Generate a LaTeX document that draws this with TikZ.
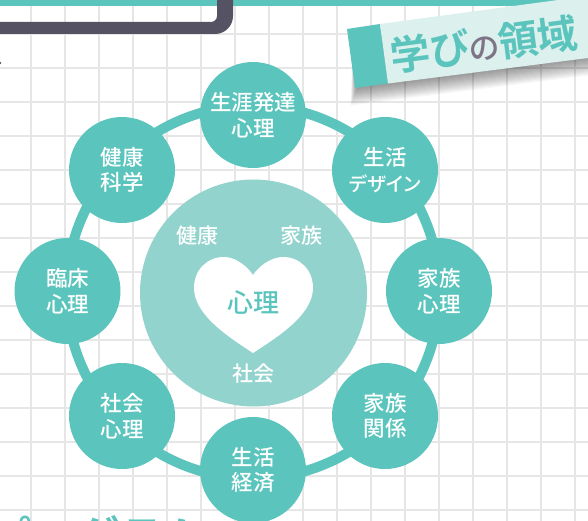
\documentclass[tikz,border=0pt]{standalone}
\usepackage{fontspec}
\setmainfont{Noto Sans CJK JP Medium}[BoldFont={Noto Sans CJK JP Bold},RawFeature=+palt]
\newfontfamily\plainjp{Noto Sans CJK JP Bold}
\definecolor{teal1}{HTML}{5BC5BD}
\definecolor{teal2}{HTML}{92D3CD}
\definecolor{pale}{HTML}{DCF0EE}
\definecolor{darkf}{HTML}{555263}
\definecolor{gridc}{HTML}{E6E6E6}
\definecolor{nogray}{HTML}{7D7585}
\tikzset{
  x=1pt,y=-1pt,
  topic/.style={circle,fill=teal1,minimum size=106pt,inner sep=0pt,text=white,align=center,font=\fontsize{21.5}{25.5}\selectfont},
  word/.style={text=white,inner sep=0pt,font=\fontsize{21}{25}\selectfont},
  gridl/.style={draw=gridc,line width=1.7pt},
  ring/.style={draw=teal1,line width=10pt}
}
\begin{document}
\begin{tikzpicture}
\useasboundingbox (0,0) rectangle (588,521);
\clip (0,0) rectangle (588,521);
\fill[white] (0,0) rectangle (588,521);
\foreach \i in {0,...,16} {\draw[gridl] ({31+34*\i},0) -- ({31+34*\i},521);}
\foreach \i in {0,...,14} {\draw[gridl] (0,{33.7+34*\i}) -- (588,{33.7+34*\i});}
% top bar and frame
\fill[teal1] (0,0) rectangle (588,6);
\fill[darkf] (0,22) -- (211,22) arc[start angle=90,end angle=0,radius=6] -- (217,0) -- (233,0) -- (233,16) arc[start angle=0,end angle=90,radius=18] -- (0,34) -- cycle;
\fill[darkf] (0,63) circle[radius=1.3];
% label shadow
\foreach \d in {1,...,16}
  {\fill[black,opacity=.028] (353,40) -- ({357-\d*.4},{88+\d*1.1}) -- (588,{58+\d*1.1}) -- (588,0) -- cycle;}
\fill[teal1] (347,29) -- (380,24) -- (388,83.5) -- (355,88) -- cycle;
\fill[pale] (380,24) -- (558,0) -- (588,-4) -- (588,58) -- (388,83.5) -- cycle;
\node[rotate=7.5,inner sep=0pt,anchor=center] (title) at (484,44.5) {\fontsize{40}{40}\selectfont\bfseries\textcolor{teal1}{学び}\mdseries\fontsize{31}{31}\selectfont\textcolor{nogray}{の}\bfseries\fontsize{40}{40}\selectfont\textcolor{teal1}{領域}};
% bottom heading (cropped by the page edge)
\node[anchor=base west,inner sep=0pt,text=teal1] (heading) at (-13,553) {\fontsize{44}{44}\selectfont\plainjp プログラム};
% ring
\draw[ring] (253,292) circle[radius=186.5];
% centre
\fill[teal2] (253.5,293) circle[radius=113.5];
\fill[white] (253,275) .. controls (244,262) and (232,257) .. (224,257) .. controls (207,257) and (194,270) .. (194,288) .. controls (194,316) and (232,339) .. (253,353) .. controls (274,339) and (313,316) .. (313,288) .. controls (313,270) and (300,257) .. (283,257) .. controls (275,257) and (262,262) .. (253,275) -- cycle;
\node[text=teal1,inner sep=0pt,font=\fontsize{26}{26}\selectfont] (core) at (253,303) {心理};
\node[word] (wa) at (197.5,236) {健康};
\node[word] (wb) at (301.5,236) {家族};
\node[word] (wc) at (253,374) {社会};
% topics
\node[topic] (n1) at (253,115) {生涯発達\\心理};
\node[topic] (n2) at (385,170) {生活\\{\fontsize{19.5}{25.5}\selectfont デザイン}};
\node[topic] (n3) at (439,291) {家族\\心理};
\node[topic] (n4) at (385,416) {家族\\関係};
\node[topic] (n5) at (253,470) {生活\\経済};
\node[topic] (n6) at (122,416) {社会\\心理};
\node[topic] (n7) at (67.5,291) {臨床\\心理};
\node[topic] (n8) at (122,170) {健康\\科学};
\end{tikzpicture}
\end{document}
